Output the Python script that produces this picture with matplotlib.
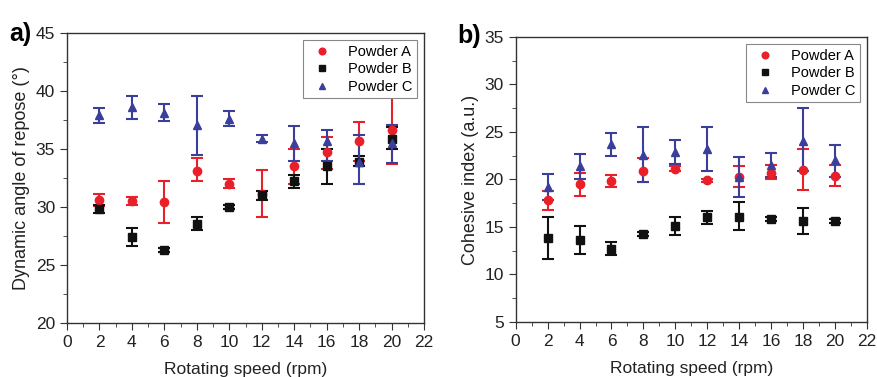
import matplotlib
matplotlib.use("Agg")
import matplotlib.pyplot as plt
from matplotlib.ticker import MultipleLocator

plt.rcParams['font.family'] = ['Liberation Sans', 'DejaVu Sans']

speed = [2, 4, 6, 8, 10, 12, 14, 16, 18, 20]
labels = ['Powder A', 'Powder B', 'Powder C']
colors = ['#e8202a', '#111111', '#3a3f9c']
markers = ['o', 's', '^']

# panel a) dynamic angle of repose (deg): value, lower end, upper end
angle_A = [30.6, 30.5, 30.4, 33.1, 32.0, 31.1, 33.5, 34.7, 35.7, 36.6]
angle_A_lo = [30.1, 30.2, 28.6, 32.2, 31.6, 29.1, 32.0, 33.3, 34.0, 33.7]
angle_A_hi = [31.1, 30.9, 32.2, 34.2, 32.4, 33.2, 35.0, 36.0, 37.3, 39.5]
angle_B = [29.8, 27.4, 26.3, 28.5, 30.0, 31.0, 32.2, 33.5, 33.9, 35.9]
angle_B_lo = [29.5, 26.6, 26.1, 28.0, 29.8, 30.6, 31.6, 32.0, 33.5, 35.0]
angle_B_hi = [30.2, 28.2, 26.5, 29.1, 30.2, 31.4, 32.8, 35.0, 34.4, 36.9]
angle_C = [37.9, 38.6, 38.1, 37.1, 37.6, 35.9, 35.5, 35.7, 33.9, 35.5]
angle_C_lo = [37.2, 37.6, 37.4, 34.5, 37.0, 35.6, 34.0, 34.0, 32.0, 33.8]
angle_C_hi = [38.5, 39.6, 38.9, 39.6, 38.3, 36.2, 37.0, 36.6, 36.2, 37.1]

# panel b) cohesive index (a.u.)
coh_A = [17.8, 19.5, 19.8, 20.9, 21.1, 19.9, 20.3, 20.7, 21.0, 20.4]
coh_A_lo = [16.8, 18.3, 19.2, 19.7, 20.9, 19.7, 19.2, 20.0, 18.9, 19.3]
coh_A_hi = [18.8, 20.7, 20.5, 22.3, 21.4, 20.1, 21.4, 21.5, 23.2, 21.5]
coh_B = [13.8, 13.6, 12.7, 14.3, 15.1, 16.0, 16.1, 15.8, 15.6, 15.6]
coh_B_lo = [11.6, 12.2, 12.1, 14.1, 14.2, 15.3, 14.7, 15.6, 14.3, 15.4]
coh_B_hi = [16.0, 15.1, 13.4, 14.5, 16.0, 16.7, 17.6, 16.1, 17.0, 15.8]
coh_C = [19.2, 21.4, 23.7, 22.6, 22.9, 23.2, 20.3, 21.5, 24.1, 22.0]
coh_C_lo = [17.8, 20.1, 22.5, 19.7, 21.6, 20.9, 18.2, 20.3, 20.9, 20.3]
coh_C_hi = [20.6, 22.7, 24.9, 25.5, 24.2, 25.5, 22.4, 22.8, 27.5, 23.6]

fig = plt.figure(figsize=(8.77, 3.77), dpi=100)
ax1 = fig.add_axes([0.0764, 0.1432, 0.4071, 0.7693])
ax2 = fig.add_axes([0.588, 0.1459, 0.4006, 0.756])


def draw(ax, series):
    handles = []
    for (y, lo, hi), lab, c, m in zip(series, labels, colors, markers):
        err = [[v - l for v, l in zip(y, lo)], [h - v for v, h in zip(y, hi)]]
        eb = ax.errorbar(speed, y, yerr=err, fmt=m, color=c, ecolor=c,
                         markersize=6, elinewidth=1.5, capsize=4,
                         capthick=1.5, label=lab)
        handles.append(eb[0])
    return handles


def style(ax, handles, ylo, yhi, ylabel):
    ax.set_xlim(0, 22)
    ax.set_ylim(ylo, yhi)
    ax.xaxis.set_major_locator(MultipleLocator(2))
    ax.xaxis.set_minor_locator(MultipleLocator(1))
    ax.yaxis.set_major_locator(MultipleLocator(5))
    ax.yaxis.set_minor_locator(MultipleLocator(2.5))
    ax.tick_params(which='both', direction='out', top=False, right=False,
                   labelsize=12.5, color='#333333', labelcolor='#222222')
    ax.tick_params(which='major', length=5)
    ax.tick_params(which='minor', length=3)
    for s in ax.spines.values():
        s.set_linewidth(1.0)
        s.set_color('#333333')
    ax.set_xlabel('Rotating speed (rpm)', fontsize=12.5, labelpad=9,
                  color='#222222')
    ax.set_ylabel(ylabel, fontsize=13, color='#222222')
    leg = ax.legend(handles, labels, loc='upper right', fontsize=10.5,
                    handletextpad=0.8, borderpad=0.3, labelspacing=0.25,
                    fancybox=False, framealpha=1, edgecolor='#888888',
                    markerscale=0.8)
    leg.get_frame().set_linewidth(0.8)


h1 = draw(ax1, [(angle_A, angle_A_lo, angle_A_hi),
                (angle_B, angle_B_lo, angle_B_hi),
                (angle_C, angle_C_lo, angle_C_hi)])
style(ax1, h1, 20, 45, 'Dynamic angle of repose (°)')

h2 = draw(ax2, [(coh_A, coh_A_lo, coh_A_hi),
                (coh_B, coh_B_lo, coh_B_hi),
                (coh_C, coh_C_lo, coh_C_hi)])
style(ax2, h2, 5, 35, 'Cohesive index (a.u.)')

fig.text(0.01, 0.89, 'a)', fontsize=18, fontweight='bold')
fig.text(0.521, 0.885, 'b)', fontsize=18, fontweight='bold')

fig.savefig('out.png', dpi=100)
